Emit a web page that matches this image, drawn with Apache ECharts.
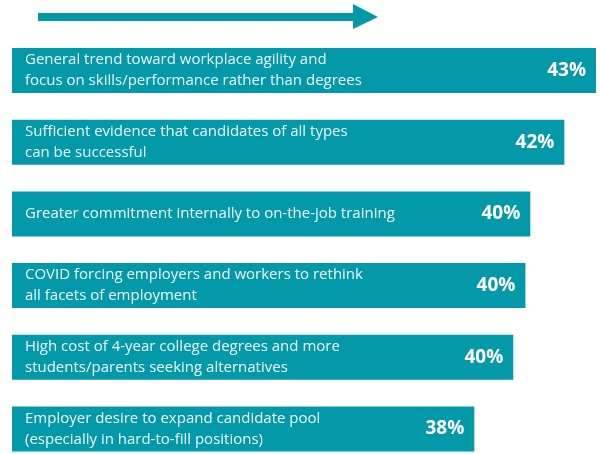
<!DOCTYPE html>
<html>
<head>
<meta charset="utf-8">
<script src="https://cdn.jsdelivr.net/npm/echarts@6/dist/echarts.min.js"></script>
<style>
  html, body { margin: 0; padding: 0; background: #fff; }
  #main { width: 600px; height: 454px; }
</style>
</head>
<body>
<div id="main"></div>
<script>
  // reasons, top to bottom
  const categories = [
    'General trend toward workplace agility and\nfocus on skills/performance rather than degrees',
    'Sufficient evidence that candidates of all types\ncan be successful',
    'Greater commitment internally to on-the-job training',
    'COVID forcing employers and workers to rethink\nall facets of employment',
    'High cost of 4-year college degrees and more\nstudents/parents seeking alternatives',
    'Employer desire to expand candidate pool\n(especially in hard-to-fill positions)'
  ];
  // share of respondents, % (bar lengths)
  const values = [43.0, 41.7, 40.3, 40.1, 39.6, 38.0];

  const teal = '#0499a8';
  let chart = echarts.init(document.getElementById('main'));
  chart.setOption({
    animation: false,
    // first and last category sit on the grid edges (boundaryGap false)
    grid: { left: 12, right: 4, top: 70.5, height: 358.5 },
    xAxis: {
      type: 'value',
      min: 19,
      max: 43,
      show: false
    },
    yAxis: {
      type: 'category',
      data: categories,
      inverse: true,
      boundaryGap: false,
      z: 10,
      axisLine: { show: false },
      axisTick: { show: false },
      splitLine: { show: false },
      axisLabel: {
        inside: true,
        margin: 13,
        color: '#eef8f9',
        fontFamily: 'Open Sans',
        fontSize: 15,
        lineHeight: 21
      }
    },
    series: [
      {
        type: 'bar',
        data: values,
        barWidth: 45,
        itemStyle: { color: teal },
        label: {
          show: true,
          position: 'insideRight',
          distance: 10,
          color: '#fff',
          fontFamily: 'Open Sans',
          fontWeight: 'bold',
          fontSize: 19,
          formatter: p => Math.round(p.value) + '%'
        }
      }
    ],
    graphic: [
      {
        type: 'polygon',
        shape: {
          points: [[38, 13], [353, 13], [353, 4], [378, 17], [353, 29], [353, 21], [38, 21]]
        },
        style: { fill: teal }
      }
    ]
  });
</script>
</body>
</html>
